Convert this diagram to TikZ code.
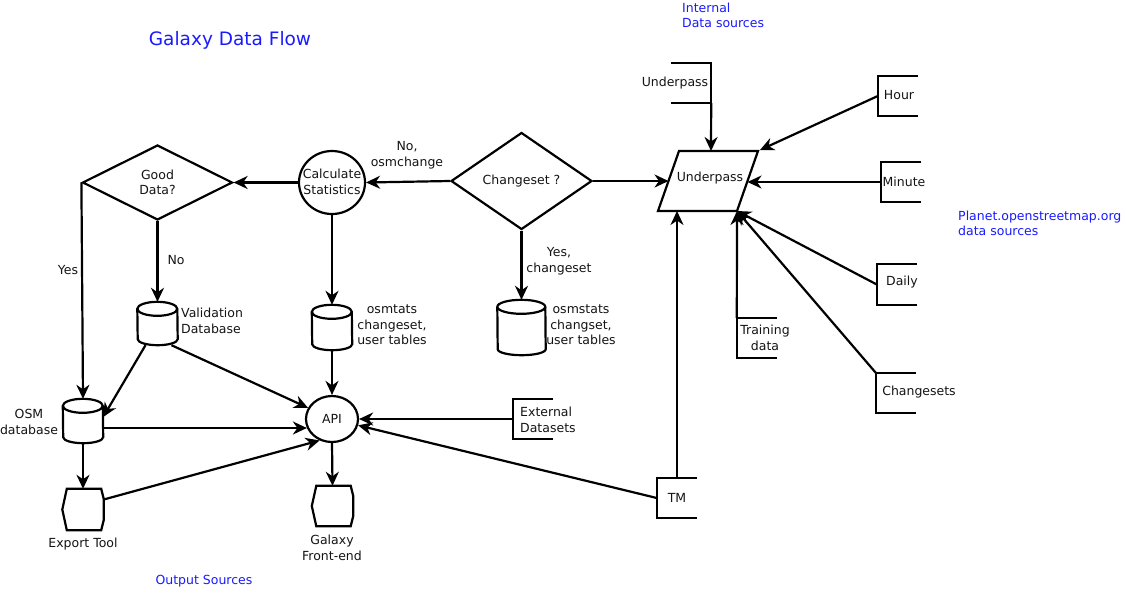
\documentclass[tikz,border=0pt]{standalone}
\usepackage{fontspec}
\setmainfont{DejaVu Sans}
\usetikzlibrary{arrows.meta,shapes.geometric,calc}
\definecolor{srcblue}{RGB}{26,26,255}
\definecolor{ink}{RGB}{20,20,20}
\newcommand{\dbcyl}[2]{%
  \draw[shp] ([yshift=-7pt]#1.north west) arc[start angle=180,end angle=0,x radius=#2,y radius=7pt]
    -- ([yshift=6pt]#1.south east) arc[start angle=0,end angle=-180,x radius=#2,y radius=6pt] -- cycle;
  \draw[shp,fill=none] ([yshift=-7pt]#1.north west) arc[start angle=180,end angle=360,x radius=#2,y radius=7pt];}
\newcommand{\outshape}[1]{%
  \draw[shp] ([xshift=4.5pt]#1.north west) -- ([xshift=-2.5pt]#1.north east) -- ([yshift=-10pt]#1.north east)
    -- ([yshift=10pt]#1.south east) -- ([xshift=-2.5pt]#1.south east) -- ([xshift=4.5pt]#1.south west)
    -- (#1.west) -- cycle;}
\newcommand{\brR}[1]{\draw[ln] (#1.north east) -- (#1.north west) -- (#1.south west) -- (#1.south east);}
\newcommand{\brL}[1]{\draw[ln] (#1.north west) -- (#1.north east) -- (#1.south east) -- (#1.south west);}
\begin{document}
\begin{tikzpicture}[x=1pt,y=-1pt,
  every node/.style={font=\fontsize{12.5}{15.5}\selectfont, text=ink, inner sep=0pt},
  ln/.style={line width=2.2pt, draw=black},
  arr/.style={ln, -{Stealth[length=14pt,width=13pt,inset=4.5pt]}},
  shp/.style={line width=2.2pt, draw=black, fill=white},
  src/.style={minimum width=40pt, minimum height=40pt, inner sep=0pt},
  box/.style={inner sep=0pt},
  lbl/.style={align=center},
  bluetxt/.style={text=srcblue, align=left}]
\useasboundingbox (0,0) rectangle (1126,606);

% blue captions
\node[bluetxt, font=\fontsize{18.5}{21}\selectfont] (title) at (230,40) {Galaxy Data Flow};
\node[bluetxt, anchor=west] (intl) at (682,15.5) {Internal\\Data sources};
\node[bluetxt, anchor=west] (planet) at (958,223.5) {Planet.openstreetmap.org\\data sources};
\node[bluetxt] (outsrc) at (204,581) {Output Sources};

% decision and process shapes
\node[diamond, shp, minimum width=150pt, minimum height=75pt, align=center] (good) at (157.5,182.5) {Good\\Data?};
\node[diamond, shp, minimum width=141pt, minimum height=97pt] (chg) at (521.5,181) {Changeset ?};
\node[ellipse, shp, minimum width=66pt, minimum height=63pt] (calc) at (332,182.5) {};
\node[lbl] (calct) at (332,182) {Calculate\\Statistics};
\node[ellipse, shp, minimum width=52pt, minimum height=46pt] (api) at (332,419) {API};

% parallelogram
\coordinate (pul) at (679,151);
\coordinate (pur) at (758,151);
\coordinate (plr) at (737,211);
\coordinate (pll) at (658,211);
\draw[shp] (pul) -- (pur) -- (plr) -- (pll) -- cycle;
\node (upt) at (710,178) {Underpass};
\coordinate (upT) at (711,151);
\coordinate (upTR) at (760,150);
\coordinate (upR) at (747.5,182);
\coordinate (upL) at (668.5,181);
\coordinate (upB) at (677,211);

% cylinders
\node[box, minimum width=40pt, minimum height=43pt] (val) at (157.5,323.5) {};
\node[box, minimum width=40pt, minimum height=45pt] (cyl2) at (332,327.5) {};
\node[box, minimum width=48pt, minimum height=55pt] (cyl3) at (521.5,327.5) {};
\node[box, minimum width=40pt, minimum height=44pt] (osm) at (83,421) {};
\dbcyl{val}{20pt}
\dbcyl{cyl2}{20pt}
\dbcyl{cyl3}{24pt}
\dbcyl{osm}{20pt}

% output shapes
\node[box, minimum width=41pt, minimum height=41pt] (exp) at (83,509.5) {};
\node[box, minimum width=41pt, minimum height=40pt] (fe) at (332.5,506) {};
\outshape{exp}
\outshape{fe}

% sources (brackets)
\node[src] (usrc) at (691,83) {};
\node[src] (hour) at (898,96) {};
\node[src] (minute) at (901,182) {};
\node[src] (daily) at (897,284.5) {};
\node[src] (chsets) at (896,393) {};
\node[src] (train) at (757,338) {};
\node[src] (tm) at (677,498) {};
\node[src, minimum height=39pt] (ext) at (533,419) {};
\brL{usrc}
\brR{hour}
\brR{minute}
\brR{daily}
\brR{chsets}
\brR{train}
\brR{tm}
\brR{ext}

% texts
\node (usrct) at (675,83) {Underpass};
\node (hourt) at (899,95) {Hour};
\node (minutet) at (904,182) {Minute};
\node (dailyt) at (902,282) {Daily};
\node (chsetst) at (919,392) {Changesets};
\node[lbl] (traint) at (765,338) {Training\\data};
\node (tmt) at (677,498) {TM};
\node[align=left, anchor=west] (extt) at (520,420) {External\\Datasets};
\node[lbl] (nolbl) at (407,155) {No,\\osmchange};
\node[lbl] (yeslbl) at (559,261) {Yes,\\changeset};
\node[lbl] (cyl3t) at (581,325) {osmstats\\changset,\\user tables};
\node[lbl] (cyl2t) at (392,325) {osmtats\\changeset,\\user tables};
\node[align=left, anchor=west] (valt) at (181,321) {Validation\\Database};
\node (nol) at (176,260) {No};
\node (yesl) at (68,270) {Yes};
\node[lbl] (osmt) at (29,422) {OSM\\database};
\node (expt) at (83,544) {Export Tool};
\node[lbl] (fet) at (332,548) {Galaxy\\Front-end};

% connectors
\draw[arr] (usrc.south east) -- (upT);
\draw[arr] (hour.west) -- (upTR);
\draw[arr] (minute.west) -- (upR);
\draw[arr] (daily.west) -- (plr);
\draw[arr] (chsets.north west) -- (plr);
\draw[arr] (train.north west) -- (plr);
\draw[arr] (tm.north) -- (upB);
\draw[arr] (tm.west) -- (api);
\draw[arr] (ext.west) -- (api.east);
\draw[arr] (chg.east) -- (upL);
\draw[arr] (chg.west) -- (calc.east);
\draw[arr] (chg.south) -- (cyl3.north);
\draw[arr] (calc.west) -- (good.east);
\draw[arr] (calc.south) -- (cyl2.north);
\draw[arr] (cyl2.south) -- (api.north);
\draw[arr] (good.south) -- (val.north);
\draw[arr] (good.west) -- (osm.north);
\draw[arr] ([xshift=-12pt]val.south) -- ([yshift=4pt]osm.east);
\draw[arr] ([xshift=14pt]val.south) -- (api.155);
\draw[arr] ([yshift=-7pt]osm.east) -- ([xshift=2pt,yshift=-9pt]api.west);
\draw[arr] (osm.south) -- (exp.north);
\draw[arr] ([yshift=10pt]exp.east) -- (api.240);
\draw[arr] (api.south) -- (fe.north);
\end{tikzpicture}
\end{document}
